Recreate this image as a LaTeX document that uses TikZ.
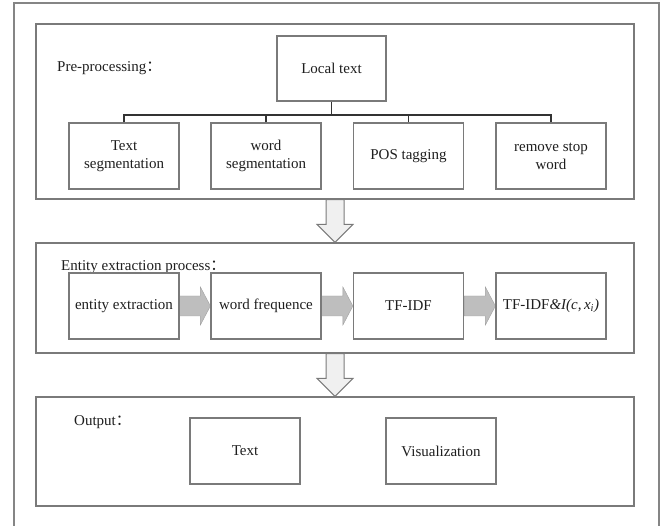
\documentclass[tikz,border=0pt]{standalone}
\usepackage{fontspec}
\setmainfont{Liberation Serif}
\newfontfamily\cjk{Noto Sans CJK SC}
\usetikzlibrary{calc,backgrounds}
\definecolor{linegray}{HTML}{7A7A7A}
\definecolor{framegray}{HTML}{858585}
\definecolor{darrowfill}{HTML}{F0F0F0}
\definecolor{harrowfill}{HTML}{BEBEBE}
\definecolor{txt}{HTML}{1E1E1E}
\newcommand\HArrow[2]{%
  \fill[harrowfill, draw=harrowfill!85!black, line width=0.4pt]
    ($(#1.east)+(0,-10)$) -- ($(#2.west)+(-10,-10)$) -- ++(0,-9) -- (#2.west)
    -- ($(#2.west)+(-10,19)$) -- ++(0,-9) -- ($(#1.east)+(0,10)$) -- cycle;}
\newcommand\DArrow[2]{%
  \filldraw[fill=darrowfill, draw=linegray, line width=1pt]
    ($(#1.south)+(-9,0)$) -- ($(#2.north)+(-9,-18)$) -- ++(-9,0) -- (#2.north)
    -- ($(#2.north)+(18,-18)$) -- ++(-9,0) -- ($(#1.south)+(9,0)$) -- cycle;}
\begin{document}
\begin{tikzpicture}[x=1pt,y=-1pt,
  font=\fontsize{15}{18}\selectfont, text=txt,
  panel/.style={draw=linegray, line width=1.3pt, minimum width=598pt, inner sep=0pt},
  box/.style={draw=linegray, line width=1.2pt, minimum width=110pt, minimum height=66pt,
              inner sep=0pt, align=center},
  lbl/.style={anchor=west, inner sep=0pt},
  conn/.style={draw=black!80, line width=1.1pt}]
\useasboundingbox (0,0) rectangle (662,526);
\draw[framegray, line width=1.3pt] (14,527) -- (14,3) -- (659,3) -- (659,527);

% panels
\node[panel, minimum height=175pt] (p1) at (335,111.5) {};
\node[panel, minimum height=110pt] (p2) at (335,298) {};
\node[panel, minimum height=109pt] (p3) at (335,451.5) {};

% pre-processing
\node[lbl] (l1) at (57,68) {Pre-processing{\cjk ：}};
\node[box, minimum width=109pt, minimum height=65pt] (lt) at (331.5,68.5) {Local text};
\node[box] (c1) at (124,156) {Text\\segmentation};
\node[box] (c2) at (266,156) {word\\segmentation};
\node[box] (c3) at (408.5,156) {POS tagging};
\node[box] (c4) at (551,156) {remove stop\\word};
\coordinate (bus) at (0,115);
\draw[conn] (lt.south) -- (lt.south |- bus);
\draw[conn] (c1.north) -- (c1.north |- bus) -- (c4.north |- bus) -- (c4.north);
\draw[conn] (c2.north) -- (c2.north |- bus);
\draw[conn] (c3.north) -- (c3.north |- bus);

% entity extraction
\node[lbl] (l2) at (61,267) {Entity extraction process{\cjk ：}};
\node[box] (e1) at (124,306) {entity extraction};
\node[box] (e2) at (266,306) {word frequence};
\node[box] (e3) at (408.5,306) {TF-IDF};
\node[box] (e4) at (551,306) {TF-IDF\textit{\&I(c,\,x\textsubscript{i})}};
\begin{scope}[on background layer]
\HArrow{e1}{e2}
\HArrow{e2}{e3}
\HArrow{e3}{e4}
\end{scope}

% output
\node[lbl] (l3) at (74,422) {Output{\cjk ：}};
\node[box] (o1) at (245,451) {Text};
\node[box] (o2) at (441,451) {Visualization};

% down arrows
\DArrow{p1}{p2}
\DArrow{p2}{p3}
\end{tikzpicture}
\end{document}
